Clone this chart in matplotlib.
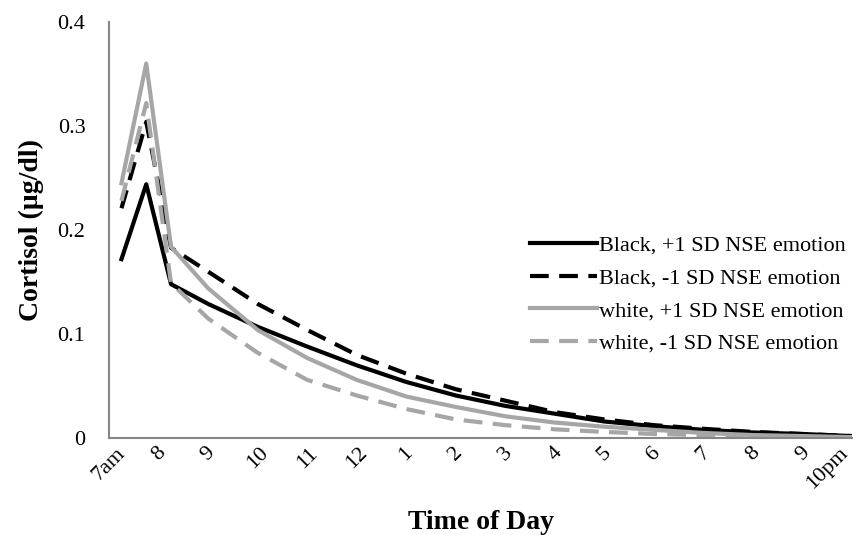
import matplotlib
matplotlib.use("Agg")
import matplotlib.pyplot as plt

# hours of the day (7.25 = 7:15am ... 22 = 10pm)
hours = [7.25, 7.75, 8.25, 9, 10, 11, 12, 13, 14, 15, 16, 17, 18, 19, 20, 21, 22]

black_pos = [0.172, 0.244, 0.148, 0.129, 0.107, 0.088, 0.070, 0.054, 0.041,
             0.031, 0.0235, 0.016, 0.0115, 0.008, 0.0055, 0.004, 0.002]
black_neg = [0.221, 0.304, 0.183, 0.160, 0.129, 0.104, 0.080, 0.062, 0.047,
             0.036, 0.025, 0.018, 0.0125, 0.009, 0.006, 0.004, 0.002]
white_pos = [0.245, 0.360, 0.184, 0.144, 0.104, 0.077, 0.056, 0.040, 0.030,
             0.021, 0.015, 0.011, 0.008, 0.005, 0.003, 0.002, 0.001]
white_neg = [0.228, 0.322, 0.149, 0.115, 0.082, 0.056, 0.041, 0.028, 0.018,
             0.0125, 0.0085, 0.006, 0.004, 0.003, 0.002, 0.001, 0.001]

series_names = ["Black, +1 SD NSE emotion", "Black, -1 SD NSE emotion",
                "white, +1 SD NSE emotion", "white, -1 SD NSE emotion"]

tick_hours = list(range(7, 23))
tick_labels = ["7am", "8", "9", "10", "11", "12", "1", "2", "3", "4", "5",
               "6", "7", "8", "9", "10pm"]
y_ticks = [0, 0.1, 0.2, 0.3, 0.4]
y_labels = ["0", "0.1", "0.2", "0.3", "0.4"]

plt.rcParams["font.family"] = ["Liberation Serif", "DejaVu Serif"]

fig = plt.figure(figsize=(8.59, 5.35), dpi=100)
ax = fig.add_axes([0.127, 0.181, 0.865, 0.778])

GRAY = "#a6a6a6"
dash = (4.5, 2.5)
ax.plot(hours, black_pos, color="black", lw=3, label=series_names[0])
ax.plot(hours, black_neg, color="black", lw=3, dashes=dash, label=series_names[1])
ax.plot(hours, white_pos, color=GRAY, lw=3, label=series_names[2])
ax.plot(hours, white_neg, color=GRAY, lw=3, dashes=dash, label=series_names[3])

ax.set_xlim(7, 22)
ax.set_ylim(0, 0.4)
ax.set_xticks(tick_hours)
ax.set_xticklabels(tick_labels, rotation=45, ha="center", fontsize=16)
ax.get_xticklabels()[-1].set_ha("right")
ax.set_yticks(y_ticks)
ax.set_yticklabels(y_labels, fontsize=16)
ax.tick_params(axis="y", length=0, pad=17)
ax.tick_params(axis="x", length=0, pad=4)

for side in ["top", "right"]:
    ax.spines[side].set_visible(False)
for side in ["left", "bottom"]:
    ax.spines[side].set_color("#868686")
    ax.spines[side].set_linewidth(1.5)

ax.set_xlabel("Time of Day", fontsize=20, fontweight="bold", labelpad=12)
ax.set_ylabel("Cortisol (µg/dl)", fontsize=20, fontweight="bold", labelpad=10)

ax.legend(loc="center left", bbox_to_anchor=(0.54, 0.345), frameon=False,
          fontsize=16, handlelength=3.0, handletextpad=0.1, labelspacing=0.55)

fig.savefig("out.png", dpi=100)
